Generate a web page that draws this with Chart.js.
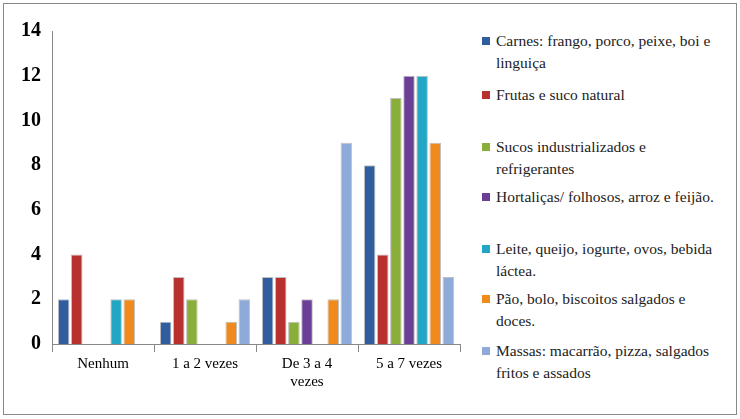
<!DOCTYPE html>
<html><head><meta charset="utf-8">
<script src="https://cdn.jsdelivr.net/npm/chart.js@4"></script>
<style>
body{margin:0;background:#fff;font-family:"Liberation Serif","DejaVu Serif",serif;}
#frame{position:absolute;left:3px;top:3px;width:732px;height:410px;border:1px solid #888;}
#wrap{position:absolute;left:14px;top:12px;width:452px;height:378px;}
#legend{position:absolute;left:478px;top:26px;width:232px;font-family:"Liberation Serif",serif;font-size:15.5px;color:#222;}
.item{position:absolute;padding-left:14px;line-height:22px;}
.sw{position:absolute;left:0;top:7px;width:8px;height:8px;}
</style></head><body>
<div id="frame">
<div id="wrap"><canvas id="c"></canvas></div>
<div id="legend"></div>
</div>
<script>
// categories and series
const categories = ['Nenhum', '1 a 2 vezes', ['De 3 a 4', 'vezes'], '5 a 7 vezes'];
const seriesNames = [
  'Carnes: frango, porco, peixe, boi e linguiça',
  'Frutas e suco natural',
  'Sucos industrializados e refrigerantes',
  'Hortaliças/ folhosos, arroz e feijão.',
  'Leite, queijo, iogurte, ovos, bebida láctea.',
  'Pão, bolo, biscoitos salgados e doces.',
  'Massas: macarrão, pizza, salgados fritos e assados'
];
const carnes = [2, 1, 3, 8];
const frutas = [4, 3, 3, 4];
const sucos = [0, 2, 1, 11];
const hortalicas = [0, 0, 2, 12];
const leite = [2, 0, 0, 12];
const pao = [2, 1, 2, 9];
const massas = [0, 2, 9, 3];
const colors = ['#2f5d9e', '#b8312f', '#8aae3a', '#6b3f96', '#22a6c3', '#f08a1c', '#8eaad8'];
const legendTops = [0, 54, 106, 156, 208, 258, 310];

const allData = [carnes, frutas, sucos, hortalicas, leite, pao, massas];
const datasets = allData.map((d, i) => ({
  label: seriesNames[i], data: d, backgroundColor: colors[i],
  borderColor: 'rgba(0,0,0,0.25)', borderWidth: 1
}));

const leg = document.getElementById('legend');
seriesNames.forEach((n, i) => {
  const div = document.createElement('div');
  div.className = 'item';
  div.style.top = legendTops[i] + 'px';
  div.innerHTML = '<span class="sw" style="background:' + colors[i] + '"></span>' + n;
  leg.appendChild(div);
});

new Chart(document.getElementById('c'), {
  type: 'bar',
  data: { labels: categories, datasets: datasets },
  options: {
    responsive: true, maintainAspectRatio: false, animation: false,
    layout: { padding: { top: 6, right: 10 } },
    plugins: { legend: { display: false }, tooltip: { enabled: false } },
    datasets: { bar: { barPercentage: 0.88, categoryPercentage: 0.9 } },
    scales: {
      y: {
        min: 0, max: 14,
        ticks: { stepSize: 2, color: '#000', font: { family: 'Liberation Serif', size: 20, weight: 'bold' } },
        grid: { display: false },
        border: { color: '#888' }
      },
      x: {
        ticks: { color: '#000', font: { family: 'Liberation Serif', size: 15 } },
        grid: { drawOnChartArea: false, offset: true, tickLength: 8, color: '#888' },
        border: { color: '#888' }
      }
    }
  }
});
</script>
</body></html>
